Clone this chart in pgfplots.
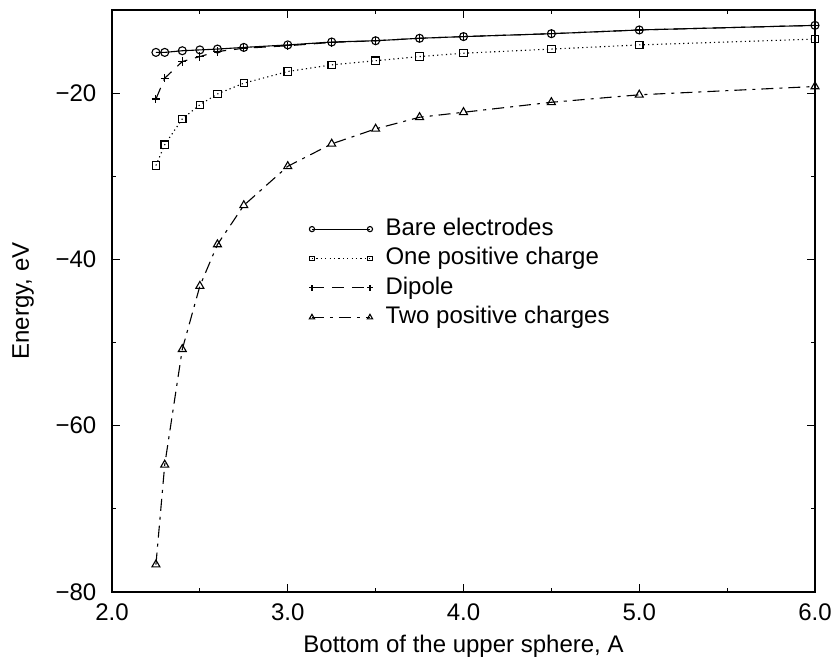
\documentclass[border=0pt]{standalone}
\usepackage{fontspec}
\setmainfont{Liberation Sans}
\usepackage{pgfplots}
\pgfplotsset{compat=1.18}

\pgfplotstableread{
x     bare    one     dip     two
2.25  -15.1   -28.7   -20.7   -76.7
2.30  -15.1   -26.2   -18.2   -64.7
2.40  -14.9   -23.1   -16.2   -50.8
2.50  -14.8   -21.4   -15.6   -43.2
2.60  -14.7   -20.1   -15.0   -38.2
2.75  -14.5   -18.8   -14.6   -33.5
3.00  -14.2   -17.4   -14.3   -28.8
3.25  -13.85  -16.6   -13.9   -26.1
3.50  -13.7   -16.1   -13.7   -24.3
3.75  -13.4   -15.6   -13.4   -22.9
4.00  -13.2   -15.2   -13.2   -22.3
4.50  -12.85  -14.7   -12.85  -21.1
5.00  -12.4   -14.2   -12.4   -20.2
6.00  -11.85  -13.5   -11.85  -19.2
}\energy

\newcommand{\lblfont}{\fontsize{12}{13.5}\selectfont}

\begin{document}
\begin{tikzpicture}
\begin{axis}[
    scale only axis,
    width=351.5pt, height=291pt,
    xmin=2, xmax=6, ymin=-80, ymax=-10,
    xtick={2,3,4,5,6},
    xticklabels={2.0,3.0,4.0,5.0,6.0},
    minor xtick={2.5,3.5,4.5,5.5},
    ytick={-80,-60,-40,-20},
    yticklabels={−80,−60,−40,−20},
    minor ytick={-70,-50,-30,-10},
    tick align=inside,
    major tick length=4pt,
    minor tick length=2pt,
    axis line style={line width=0.8pt},
    every tick/.style={black, line width=0.5pt},
    tick label style={font=\lblfont},
    yticklabel style={xshift=-4.3pt},
    xticklabel style={yshift=-2.4pt},
    label style={font=\lblfont},
    xlabel={Bottom of the upper sphere, A},
    ylabel={Energy, eV},
    xlabel style={at={(axis description cs:0.5,-0.1031)}, anchor=base},
    ylabel style={at={(axis description cs:-0.1181,0.5)}, anchor=base},
    clip=false,
    legend style={draw=none, fill=none, font=\lblfont,
        at={(axis description cs:0.280,0.645)}, anchor=north west,
        inner sep=0pt, row sep=2.6pt, column sep=6pt,
        nodes={inner sep=0.4pt, text height=8.8pt, text depth=2.5pt}},
    legend cell align=left,
    legend image code/.code={\draw[#1,mark options={solid,scale=0.65}] plot coordinates {(0pt,0pt) (29pt,0pt)};},
    every axis plot/.append style={black, line width=0.55pt, mark options={solid}},
]
\addplot[mark=o, mark size=2pt] table[x=x, y=bare] {\energy};
\addlegendentry{Bare electrodes}
\addplot[mark=square, mark size=1.85pt, dash pattern=on 0.6pt off 1.6pt] table[x=x, y=one] {\energy};
\addlegendentry{One positive charge}
\addplot[mark=+, mark size=2.1pt, dash pattern=on 6pt off 4pt] table[x=x, y=dip] {\energy};
\addlegendentry{Dipole}
\addplot[mark=triangle, mark size=2.3pt, dash pattern=on 6pt off 3pt on 1.5pt off 3pt] table[x=x, y=two] {\energy};
\addlegendentry{Two positive charges}
\end{axis}
\pgfresetboundingbox
\useasboundingbox ([shift={(-56pt,-35.5pt)}]current axis.south west) rectangle ([shift={(9.5pt,5pt)}]current axis.north east);
\end{tikzpicture}
\end{document}
